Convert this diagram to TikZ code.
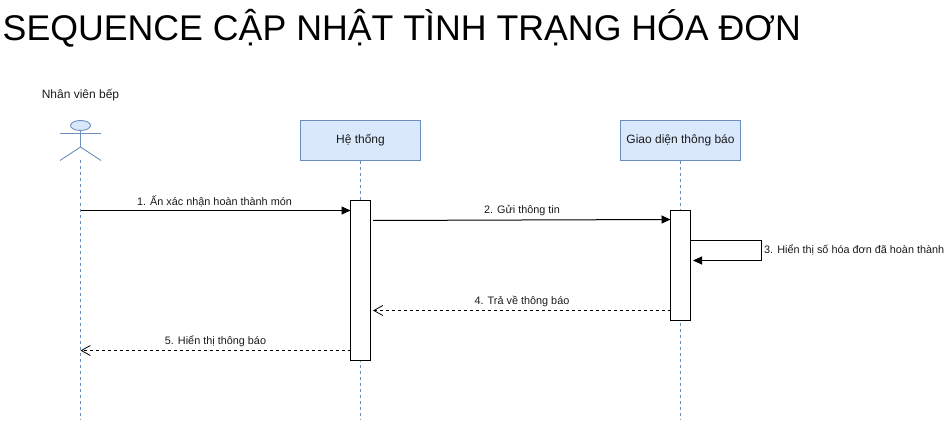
\documentclass[tikz,border=0pt]{standalone}
\usepackage{fontspec}
\setmainfont{Liberation Sans}
\usetikzlibrary{arrows.meta,shapes.geometric}
\definecolor{bluefill}{HTML}{DAE8FC}
\definecolor{blueline}{HTML}{6C8EBF}
\definecolor{txt}{HTML}{1A1A1A}
\tikzset{
  x=1pt,y=-1pt,
  lbl/.style={font=\fontsize{10.85}{13}\selectfont,text=txt,inner sep=0pt},
  biglbl/.style={font=\fontsize{12}{14}\selectfont,text=txt,inner sep=0pt},
  participant/.style={draw=blueline,fill=bluefill,minimum width=120pt,minimum height=40pt,inner sep=0pt,line width=0.8pt,font=\fontsize{12}{14}\selectfont,text=txt},
  lifeline/.style={draw=blueline,line width=0.8pt,dash pattern=on 3pt off 3pt},
  actorline/.style={draw=blueline,line width=0.9pt},
  activation/.style={draw=black,fill=white,minimum width=20pt,inner sep=0pt,line width=1pt},
  sync/.style={draw=black,line width=1pt,-{Triangle[length=9pt,width=8pt]}},
  reply/.style={draw=black,line width=0.8pt,dash pattern=on 3pt off 3pt,-{Straight Barb[length=9pt,width=10pt]}}
}
\begin{document}
\begin{tikzpicture}
\useasboundingbox (0,0) rectangle (947,422);
\node[font=\fontsize{35.7}{40}\selectfont,text=black,inner sep=0pt,anchor=base west] (title) at (2.5,41) {SEQUENCE CẬP NHẬT TÌNH TRẠNG HÓA ĐƠN};
\node[biglbl] (actorname) at (80.5,95) {Nhân viên bếp};
% actor
\node[actorline,fill=bluefill,ellipse,draw,minimum width=20pt,minimum height=10pt,inner sep=0pt] (head) at (80.5,125.5) {};
\coordinate (armL) at (60,133.5);
\coordinate (armR) at (101,133.5);
\coordinate (hip) at (80.5,147);
\coordinate (legL) at (60,160.5);
\coordinate (legR) at (101,160.5);
\draw[actorline] (head.south) -- (hip) (armL) -- (armR) (legL) -- (hip) -- (legR);
% participants
\node[participant] (sys) at (360.5,140.5) {Hệ thống};
\node[participant] (ui) at (680.5,140.5) {Giao diện thông báo};
% lifelines
\coordinate (actorEnd) at (80.5,420);
\coordinate (sysEnd) at (360.5,420);
\coordinate (uiEnd) at (680.5,420);
\coordinate (actorStart) at (80.5,160.5);
\draw[lifeline] (actorStart) -- (actorEnd);
\draw[lifeline] (sys.south) -- (sysEnd);
\draw[lifeline] (ui.south) -- (uiEnd);
% activations
\node[activation,minimum height=160pt] (actsys) at (360.5,280.5) {};
\node[activation,minimum height=110pt] (actui) at (680.5,265.5) {};
% messages
\coordinate (a1) at (80.5,210.5);
\coordinate (s1) at (350.5,210.5);
\draw[sync] (a1) -- (s1);
\coordinate (s2) at (373,220.5);
\coordinate (u2) at (670.5,219.5);
\draw[sync] (s2) -- (u2);
\coordinate (u3a) at (690.5,240.5);
\coordinate (u3b) at (761,240.5);
\coordinate (u3c) at (761,260.5);
\coordinate (u3d) at (693,260.5);
\draw[sync] (u3a) -- (u3b) -- (u3c) -- (u3d);
\coordinate (u4) at (670.5,310.5);
\coordinate (s4) at (373,310.5);
\draw[reply] (u4) -- (s4);
\coordinate (s5) at (350.5,350.5);
\coordinate (a5) at (80.5,350.5);
\draw[reply] (s5) -- (a5);
% labels
\node[lbl] (m1) at (214.5,201) {1. Ấn xác nhận hoàn thành món};
\node[lbl] (m2) at (522,211) {2. Gửi thông tin};
\node[lbl,anchor=west] (m3) at (764,249.5) {3. Hiển thị số hóa đơn đã hoàn thành};
\node[lbl] (m4) at (522,301.5) {4. Trả về thông báo};
\node[lbl] (m5) at (215.5,341.5) {5. Hiển thị thông báo};
\end{tikzpicture}
\end{document}
